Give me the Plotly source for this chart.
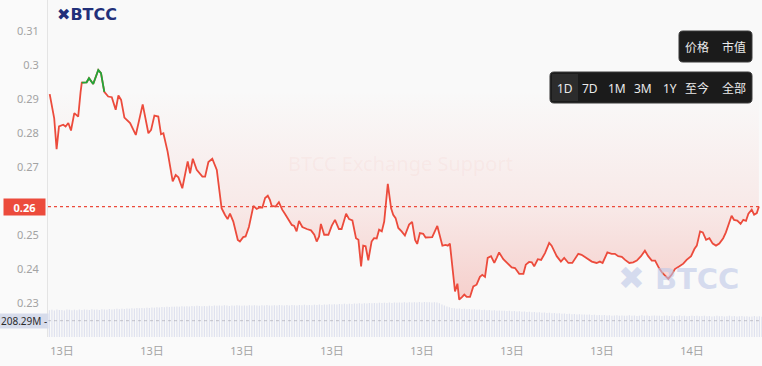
import numpy as np
import plotly.graph_objects as go

# ---------------- data ----------------
hours = [2.59, 2.74, 2.82, 2.90, 3.04, 3.12, 3.21, 3.30, 3.41, 3.54, 3.62, 3.66, 3.82, 3.90, 4.04, 4.21, 4.30, 4.41,
         4.54, 4.66, 4.79, 4.88, 4.97, 5.08, 5.27, 5.46, 5.69, 5.88, 5.97, 6.08, 6.21, 6.30, 6.38, 6.52, 6.69, 6.79,
         6.88, 7.01, 7.19, 7.27, 7.36, 7.49, 7.68, 7.77, 7.88, 8.01, 8.16, 8.32, 8.43, 8.52, 8.60, 8.71, 8.86, 8.93,
         9.04, 9.12, 9.23, 9.38, 9.49, 9.60, 9.68, 9.77, 9.86, 9.93, 9.99, 10.12, 10.23, 10.34, 10.43, 10.57, 10.66,
         10.74, 10.82, 10.90, 11.01, 11.16, 11.30, 11.41, 11.49, 11.57, 11.63, 11.74, 11.88, 11.99, 12.10, 12.23,
         12.32, 12.47, 12.57, 12.68, 12.80, 12.88, 12.97, 13.04, 13.12, 13.21, 13.32, 13.40, 13.49, 13.57, 13.66,
         13.74, 13.86, 13.97, 14.04, 14.12, 14.21, 14.32, 14.43, 14.57, 14.67, 14.77, 14.84, 14.93, 15.04, 15.12,
         15.23, 15.34, 15.51, 15.60, 15.68, 15.79, 15.86, 15.93, 16.04, 16.10, 16.18, 16.24, 16.34, 16.41, 16.49,
         16.60, 16.71, 16.82, 16.93, 17.01, 17.10, 17.19, 17.30, 17.41, 17.49, 17.57, 17.71, 17.88, 17.99, 18.10,
         18.24, 18.38, 18.46, 18.57, 18.66, 18.74, 18.86, 18.97, 19.10, 19.24, 19.32, 19.49, 19.63, 19.74, 19.88,
         20.01, 20.21, 20.32, 20.43, 20.66, 20.82, 20.93, 21.02, 21.18, 21.32, 21.43, 21.54, 21.66, 21.77, 21.91,
         22.04, 22.16, 22.30, 22.43, 22.54, 22.66, 22.77, 22.90, 23.02, 23.13, 23.21, 23.32, 23.43, 23.58, 23.71,
         23.82, 23.97, 24.08, 24.16, 24.27, 24.36, 24.47, 24.58, 24.69, 24.80, 24.91, 25.04, 25.13, 25.24, 25.32,
         25.40, 25.51, 25.62, 25.71, 25.80, 25.88, 25.99, 26.07, 26.16, 26.23]

price = [0.2914, 0.2843, 0.2752, 0.2819, 0.2824, 0.2819, 0.2829, 0.2807, 0.2858, 0.2848, 0.2921, 0.2948, 0.2949,
         0.2961, 0.2944, 0.2985, 0.2976, 0.2921, 0.2907, 0.2905, 0.2868, 0.2910, 0.2897, 0.2845, 0.2829, 0.2794,
         0.2884, 0.2799, 0.2809, 0.2851, 0.2848, 0.2796, 0.2799, 0.2745, 0.2657, 0.2676, 0.2669, 0.2637, 0.2716,
         0.2681, 0.2724, 0.2691, 0.2671, 0.2671, 0.2714, 0.2724, 0.2691, 0.2578, 0.2559, 0.2546, 0.2562, 0.2539,
         0.2485, 0.2480, 0.2493, 0.2495, 0.2523, 0.2585, 0.2576, 0.2581, 0.2580, 0.2608, 0.2615, 0.2603, 0.2585,
         0.2583, 0.2596, 0.2574, 0.2562, 0.2542, 0.2529, 0.2526, 0.2510, 0.2541, 0.2523, 0.2517, 0.2513, 0.2500,
         0.2480, 0.2495, 0.2532, 0.2500, 0.2500, 0.2526, 0.2544, 0.2517, 0.2517, 0.2562, 0.2546, 0.2542, 0.2490,
         0.2485, 0.2407, 0.2468, 0.2466, 0.2425, 0.2480, 0.2490, 0.2489, 0.2515, 0.2510, 0.2539, 0.2650, 0.2578,
         0.2559, 0.2549, 0.2520, 0.2510, 0.2498, 0.2530, 0.2538, 0.2485, 0.2473, 0.2505, 0.2503, 0.2492, 0.2493,
         0.2493, 0.2526, 0.2495, 0.2468, 0.2470, 0.2468, 0.2474, 0.2377, 0.2333, 0.2356, 0.2309, 0.2317, 0.2324,
         0.2317, 0.2317, 0.2348, 0.2353, 0.2376, 0.2382, 0.2376, 0.2432, 0.2437, 0.2417, 0.2432, 0.2448, 0.2428,
         0.2412, 0.2404, 0.2402, 0.2385, 0.2385, 0.2412, 0.2420, 0.2419, 0.2407, 0.2428, 0.2426, 0.2446, 0.2476,
         0.2468, 0.2437, 0.2421, 0.2432, 0.2417, 0.2417, 0.2444, 0.2441, 0.2434, 0.2421, 0.2417, 0.2421, 0.2417,
         0.2448, 0.2444, 0.2444, 0.2437, 0.2435, 0.2426, 0.2417, 0.2419, 0.2424, 0.2437, 0.2453, 0.2437, 0.2424,
         0.2424, 0.2402, 0.2387, 0.2377, 0.2370, 0.2382, 0.2399, 0.2407, 0.2415, 0.2426, 0.2437, 0.2458, 0.2468,
         0.2510, 0.2507, 0.2485, 0.2490, 0.2474, 0.2468, 0.2474, 0.2490, 0.2507, 0.2536, 0.2556, 0.2544, 0.2542,
         0.2532, 0.2544, 0.2541, 0.2562, 0.2574, 0.2559, 0.2564, 0.2583]

baseline_price = 0.2925

volume_m = [342, 348, 339, 351, 344, 346, 340, 352, 347, 343, 349, 341, 350,
            345, 353, 347, 344, 356, 349, 351, 346, 355, 350, 348, 357, 352,
            354, 360, 356, 362, 358, 365, 361, 368, 363, 370, 366, 372, 369,
            374, 371, 378, 375, 381, 377, 384, 380, 386, 382, 388, 385, 390,
            387, 392, 389, 394, 391, 396, 393, 398, 395, 392, 397, 394, 399,
            396, 401, 398, 403, 399, 405, 401, 397, 404, 400, 406, 402, 398,
            403, 399, 405, 401, 407, 403, 400, 406, 402, 408, 404, 401, 407,
            403, 409, 405, 402, 408, 404, 410, 406, 403, 409, 405, 411, 407,
            410, 406, 412, 408, 414, 410, 416, 412, 418, 414, 420, 416, 422,
            418, 424, 420, 426, 422, 428, 424, 430, 426, 432, 428, 434, 430,
            435, 431, 437, 433, 438, 434, 440, 436, 441, 437, 442, 438, 443,
            439, 444, 440, 445, 441, 446, 442, 447, 443, 444, 440, 445, 441,
            430, 415, 402, 390, 380, 372, 368, 362, 365, 358, 361, 355, 358,
            352, 355, 349, 352, 346, 349, 343, 346, 340, 343, 337, 340, 334,
            337, 331, 334, 328, 331, 325, 328, 322, 325, 319, 322, 316, 319,
            313, 316, 310, 313, 307, 310, 304, 307, 301, 304, 298, 301, 295,
            298, 292, 295, 289, 292, 286, 289, 283, 286, 280, 283, 277, 280,
            277, 280, 274, 277, 271, 274, 279, 273, 276, 270, 273, 278, 272,
            275, 269, 272, 277, 271, 274, 268, 271, 276, 270, 273, 267, 270,
            275, 269, 272, 266, 269, 274, 268, 271, 265, 268, 273, 267, 270,
            264, 267, 272, 266, 269, 263, 266, 271, 265, 268, 262, 265, 270,
            264, 267, 261, 264, 269, 263, 266, 260, 263, 268, 262, 265, 259]
volume_start_hour = 2.58
volume_label = "208.29M"
volume_label_value = 208.29

y_tick_vals = [0.23, 0.24, 0.25, 0.27, 0.28, 0.29, 0.30, 0.31]
y_tick_text = ["0.23", "0.24", "0.25", "0.27", "0.28", "0.29", "0.3", "0.31"]
x_tick_vals = [3, 6, 9, 12, 15, 18, 21, 24]
x_tick_text = ["13日", "13日", "13日", "13日", "13日", "13日", "13日", "14日"]
toggle_labels = ["价格", "市值"]
range_labels = ["1D", "7D", "1M", "3M", "1Y", "至今", "全部"]

# ---------------- figure ----------------
W, H = 762, 366
ML, MB = 48, 29
PW, PH = W - ML, H - MB
RED = "#ec4b3c"
GREEN = "#1fa83a"
FONT = "Noto Sans, Noto Sans CJK SC, sans-serif"

def px(x):
    return (x - ML) / PW

def py(y):
    return (PH - y) / PH

def rounded_rect(x0, y0, x1, y1, r=4):
    # pixel coords (top-left origin) -> paper path with rounded corners
    X = lambda v: "%.5f" % px(v)
    Y = lambda v: "%.5f" % py(v)
    return ("M%s,%s L%s,%s Q%s,%s %s,%s L%s,%s Q%s,%s %s,%s L%s,%s Q%s,%s %s,%s L%s,%s Q%s,%s %s,%s Z" % (
        X(x0 + r), Y(y0), X(x1 - r), Y(y0), X(x1), Y(y0), X(x1), Y(y0 + r),
        X(x1), Y(y1 - r), X(x1), Y(y1), X(x1 - r), Y(y1),
        X(x0 + r), Y(y1), X(x0), Y(y1), X(x0), Y(y1 - r),
        X(x0), Y(y0 + r), X(x0), Y(y0), X(x0 + r), Y(y0)))

price_arr = np.array(price)
vol_hours = volume_start_hour + np.arange(len(volume_m)) / 12.0

mask = price_arr >= baseline_price
mask_ext = mask.copy()
mask_ext[1:] |= mask[:-1]
green_vals = np.where(mask_ext, price_arr, None)

fig = go.Figure()

# volume bars
fig.add_trace(go.Bar(x=vol_hours, y=volume_m, yaxis="y2",
                     marker=dict(color="rgba(196,202,228,0.5)", line=dict(width=0)),
                     hoverinfo="skip", showlegend=False))

# baseline for fill
fig.add_trace(go.Scatter(x=hours, y=[baseline_price] * len(hours), mode="lines",
                         line=dict(width=0, color="rgba(0,0,0,0)"), hoverinfo="skip", showlegend=False))
fig.add_trace(go.Scatter(x=hours, y=np.minimum(price_arr, baseline_price), mode="lines",
                         line=dict(width=0, color="rgba(0,0,0,0)"), fill="tonexty",
                         fillgradient=dict(type="vertical",
                                           colorscale=[[0, "rgba(236,75,60,0.24)"],
                                                       [0.45, "rgba(236,75,60,0.09)"],
                                                       [1, "rgba(236,75,60,0.0)"]]),
                         hoverinfo="skip", showlegend=False))
# price line
fig.add_trace(go.Scatter(x=hours, y=price, mode="lines", line=dict(color=RED, width=1.8),
                         hoverinfo="skip", showlegend=False))
fig.add_trace(go.Scatter(x=hours, y=green_vals, mode="lines", line=dict(color=GREEN, width=1.8),
                         connectgaps=False, hoverinfo="skip", showlegend=False))

last = price[-1]
y0 = 0.23 - (PH - 302.7) / 3396
y1 = 0.31 + 31 / 3396
x_start = 24 - (692 - ML) / 30.0
x_end = 24 + (W - 692) / 30.0
vol_per_px = 12.78

shapes = []
annotations = []

# last price dotted line
shapes.append(dict(type="line", xref="paper", yref="y", x0=0, x1=1, y0=last, y1=last,
                   line=dict(color=RED, width=1.2, dash="dot")))
# volume dotted line
shapes.append(dict(type="line", xref="paper", yref="y2", x0=0, x1=1, y0=volume_label_value,
                   y1=volume_label_value, line=dict(color="rgba(150,150,160,0.5)", width=1, dash="dot")))

# last price label box
annotations.append(dict(xref="paper", yref="y", x=px(46), y=last, xanchor="right", yanchor="middle",
                        text="<b>%.2f</b>" % last, showarrow=False, bgcolor=RED, borderpad=2,
                        width=37, height=12, font=dict(color="white", size=11, family=FONT)))
# volume label box
annotations.append(dict(xref="paper", yref="y2", x=px(49), y=volume_label_value, xanchor="right",
                        yanchor="middle", text=volume_label + " -", showarrow=False,
                        bgcolor="#d7dceb", borderpad=1, height=12,
                        font=dict(color="#2b2b2b", size=10, family=FONT)))

# logo
annotations.append(dict(xref="paper", yref="paper", x=px(55), y=py(15), xanchor="left", yanchor="middle",
                        text="<b><span style='font-size:16px'>✖</span>BTCC</b>", showarrow=False,
                        font=dict(color="#22307a", size=16, family="DejaVu Sans")))
# watermarks
annotations.append(dict(xref="paper", yref="paper", x=px(400), y=py(163), xanchor="center", yanchor="middle",
                        text="BTCC Exchange Support", showarrow=False,
                        font=dict(color="rgba(240,170,160,0.10)", size=20, family=FONT)))
annotations.append(dict(xref="paper", yref="paper", x=px(678), y=py(278), xanchor="center", yanchor="middle",
                        text="<b><span style='font-size:32px'>✖</span> BTCC</b>", showarrow=False,
                        font=dict(color="rgba(190,200,232,0.6)", size=29, family="DejaVu Sans")))

# toggle buttons
BOX = "#1b1b1b"
shapes.append(dict(type="path", xref="paper", yref="paper", path=rounded_rect(679, 31, 752, 62),
                   fillcolor=BOX, line=dict(color="#3a3a3a", width=1), layer="above"))
shapes.append(dict(type="path", xref="paper", yref="paper", path=rounded_rect(550, 72, 752, 103),
                   fillcolor=BOX, line=dict(color="#3a3a3a", width=1), layer="above"))
shapes.append(dict(type="rect", xref="paper", yref="paper", x0=px(552), x1=px(578), y0=py(101), y1=py(74),
                   fillcolor="#2c2c2c", line=dict(width=0), layer="above"))
for lab, cx in zip(toggle_labels, [697, 734]):
    annotations.append(dict(xref="paper", yref="paper", x=px(cx), y=py(47), xanchor="center", yanchor="middle",
                            text=lab, showarrow=False, font=dict(color="#eaeaea", size=12, family=FONT)))
for lab, cx in zip(range_labels, [565, 590, 617, 643, 670, 697, 734]):
    annotations.append(dict(xref="paper", yref="paper", x=px(cx), y=py(88), xanchor="center", yanchor="middle",
                            text=lab, showarrow=False, font=dict(color="#eaeaea", size=12, family=FONT)))

fig.update_layout(
    width=W, height=H,
    margin=dict(l=ML, r=0, t=0, b=MB),
    paper_bgcolor="#fafafa", plot_bgcolor="#f9f9f9",
    showlegend=False, hovermode=False, bargap=0.55,
    xaxis=dict(range=[x_start, x_end], tickvals=x_tick_vals, ticktext=x_tick_text, showgrid=False,
               zeroline=False, showline=False, ticks="outside", ticklen=4, tickcolor="rgba(0,0,0,0)",
               tickfont=dict(color="#a3a3a3", size=11, family=FONT)),
    yaxis=dict(range=[y0, y1], tickvals=y_tick_vals, ticktext=y_tick_text, showgrid=False, zeroline=False,
               showline=True, linecolor="#e4e4e4", linewidth=1, ticks="outside", ticklen=6,
               tickcolor="rgba(0,0,0,0)", tickfont=dict(color="#a3a3a3", size=11, family=FONT)),
    yaxis2=dict(range=[0, PH * vol_per_px], overlaying="y", showgrid=False, zeroline=False,
                showticklabels=False, showline=False),
    shapes=shapes, annotations=annotations,
)

fig.write_html("out.html")
